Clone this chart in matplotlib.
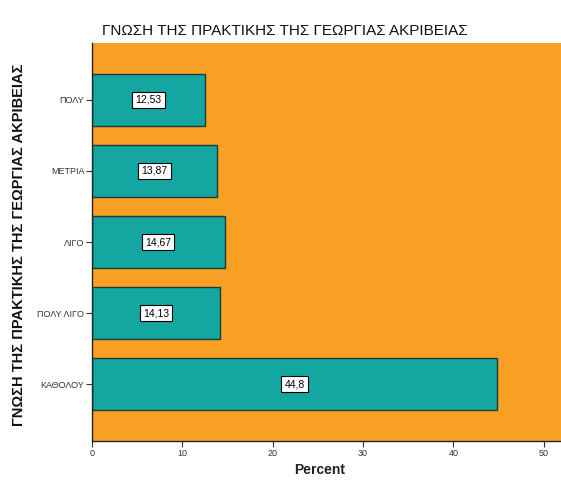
import matplotlib
matplotlib.use("Agg")
import matplotlib.pyplot as plt
from matplotlib import font_manager

categories = ["ΠΟΛΥ", "ΜΕΤΡΙΑ", "ΛΙΓΟ", "ΠΟΛΥ ΛΙΓΟ", "ΚΑΘΟΛΟΥ"]
percents = [12.53, 13.87, 14.67, 14.13, 44.8]
value_labels = ["12,53", "13,87", "14,67", "14,13", "44,8"]
x_ticks = [0, 10, 20, 30, 40, 50]

names = {f.name for f in font_manager.fontManager.ttflist}
narrow = "Liberation Sans Narrow" if "Liberation Sans Narrow" in names else "Liberation Sans"
plt.rcParams["font.family"] = ["Liberation Sans", "DejaVu Sans"]

ORANGE = "#F7A024"
TEAL = "#14A7A2"

fig = plt.figure(figsize=(5.61, 4.82), dpi=100)
ax = fig.add_axes([92 / 561, 41 / 482, 1 - 92 / 561, (441 - 43) / 482])
ax.set_facecolor(ORANGE)

ypos = list(range(len(categories)))
ax.barh(ypos, percents, height=0.74, color=TEAL, edgecolor="#1d3b38", linewidth=1.0)

for y, v, lab in zip(ypos, percents, value_labels):
    ax.text(v / 2, y, lab, ha="center", va="center", fontsize=7.5, family=narrow,
            color="black",
            bbox=dict(boxstyle="square,pad=0.3", facecolor="white", edgecolor="black", linewidth=0.8))

ax.set_ylim(4.8, -0.8)
ax.set_xlim(0, 51.9)
ax.set_yticks(ypos)
ax.set_yticklabels(categories, fontsize=6.5, family=narrow, color="#333333")
ax.set_xticks(x_ticks)
ax.set_xticklabels([str(t) for t in x_ticks], fontsize=6.5, family=narrow, color="#333333")
ax.tick_params(axis="both", direction="out", length=4, width=0.8, color="#333333", pad=1.5)

for s in ("top", "right"):
    ax.spines[s].set_visible(False)
for s in ("left", "bottom"):
    ax.spines[s].set_color("#222222")
    ax.spines[s].set_linewidth(1.0)

fig.text(285 / 561, 1 - 31 / 482, "ΓΝΩΣΗ ΤΗΣ ΠΡΑΚΤΙΚΗΣ ΤΗΣ ΓΕΩΡΓΙΑΣ ΑΚΡΙΒΕΙΑΣ",
         ha="center", va="center", fontsize=11, color="#111111")
fig.text(320 / 561, 1 - 470 / 482, "Percent", ha="center", va="center",
         fontsize=10, fontweight="bold", color="#222222")
fig.text(19 / 561, 1 - 245 / 482, "ΓΝΩΣΗ ΤΗΣ ΠΡΑΚΤΙΚΗΣ ΤΗΣ ΓΕΩΡΓΙΑΣ ΑΚΡΙΒΕΙΑΣ",
         ha="center", va="center", rotation=90, fontsize=10.5, fontweight="bold", color="#111111")

fig.savefig("out.png", dpi=100)
